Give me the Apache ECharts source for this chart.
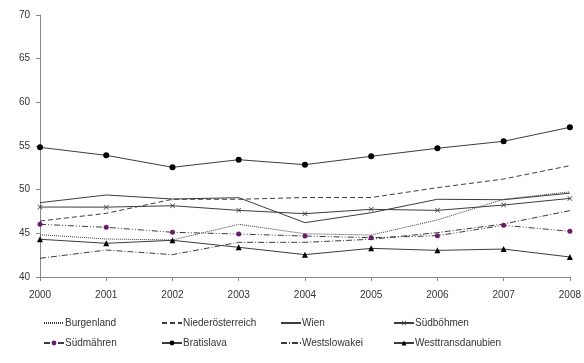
<!DOCTYPE html>
<html>
<head>
<meta charset="utf-8">
<script src="https://cdn.jsdelivr.net/npm/echarts@6/dist/echarts.min.js"></script>
<style>
  html, body { margin: 0; padding: 0; background: #fff; }
  #chart { width: 584px; height: 363px; }
</style>
</head>
<body>
<div id="chart"></div>
<script>
// Years on the category axis
const years = ['2000', '2001', '2002', '2003', '2004', '2005', '2006', '2007', '2008'];

// Values per region
const burgenland        = [44.85, 44.35, 44.24, 46.03, 44.95, 44.8, 46.53, 48.9, 49.75];
const niederoesterreich = [46.41, 47.29, 48.9, 48.9, 49.1, 49.1, 50.23, 51.22, 52.75];
const wien              = [48.51, 49.39, 48.93, 49.08, 46.22, 47.36, 48.9, 48.85, 49.6];
const suedboehmen       = [48.01, 48.0, 48.16, 47.63, 47.25, 47.75, 47.63, 48.24, 49.0];
const suedmaehren       = [46.03, 45.69, 45.12, 44.92, 44.69, 44.5, 44.73, 45.92, 45.23];
const bratislava        = [54.85, 53.93, 52.56, 53.43, 52.86, 53.82, 54.74, 55.54, 57.14];
const westslowakei      = [42.14, 43.09, 42.56, 43.97, 43.97, 44.32, 45.08, 46.07, 47.6];
const westtransdanubien = [44.32, 43.86, 44.2, 43.4, 42.56, 43.28, 43.05, 43.2, 42.29];

// Y axis range and step
const yMin = 40, yMax = 70, yStep = 5;

const ink = '#333';
const lineInk = '#3c3c3c';
const font = 'Liberation Sans';
const crossPath = 'path://M0,1L1,0L5,4L9,0L10,1L6,5L10,9L9,10L5,6L1,10L0,9L4,5Z';

function line(name, data, dash, symbol, symbolSize, color) {
  return {
    name: name,
    type: 'line',
    data: data,
    symbol: symbol || 'circle',
    symbolSize: symbolSize || 0,
    showSymbol: !!symbol,
    animation: false,
    silent: true,
    lineStyle: { color: lineInk, width: 1, type: dash },
    itemStyle: { color: color || lineInk, borderWidth: 0 },
    z: 2
  };
}

const series = [
  line('Burgenland', burgenland, [1, 1]),
  line('Niederösterreich', niederoesterreich, [5, 3]),
  line('Wien', wien, 'solid'),
  line('Südböhmen', suedboehmen, 'solid', crossPath, 5),
  line('Südmähren', suedmaehren, [6, 2, 1, 2, 1, 2], 'circle', 5, '#6b1a6b'),
  line('Bratislava', bratislava, 'solid', 'circle', 6, '#000'),
  line('Westslowakei', westslowakei, [6, 2, 1, 2]),
  line('Westtransdanubien', westtransdanubien, 'solid', 'triangle', 6, '#000')
];

// Series drawn without markers get a plain line in the legend
const plainLines = ['Burgenland', 'Niederösterreich', 'Wien', 'Westslowakei'];

function legendColumn(left, names) {
  return {
    orient: 'vertical',
    left: left,
    top: 318,
    itemWidth: 20,
    itemHeight: 6,
    itemGap: 10,
    padding: 0,
    selectedMode: false,
    data: names.map(function (n) {
      return plainLines.indexOf(n) >= 0
        ? { name: n, itemStyle: { color: 'rgba(0,0,0,0)', borderColor: 'rgba(0,0,0,0)', borderWidth: 0 } }
        : { name: n };
    }),
    textStyle: { fontFamily: font, fontSize: 10, color: ink, padding: [0, 0, 0, -4] }
  };
}

const chart = echarts.init(document.getElementById('chart'), null, { renderer: 'canvas' });
chart.setOption({
  backgroundColor: '#fff',
  animation: false,
  grid: { left: 40, top: 15, right: 12, bottom: 86, containLabel: false },
  xAxis: {
    type: 'category',
    data: years,
    boundaryGap: false,
    axisLine: { lineStyle: { color: '#888', width: 1 } },
    axisTick: { show: true, length: 4, inside: false, lineStyle: { color: '#888' } },
    axisLabel: { fontFamily: font, fontSize: 10, color: ink, margin: 13 },
    splitLine: { show: false }
  },
  yAxis: {
    type: 'value',
    min: yMin,
    max: yMax,
    interval: yStep,
    axisLine: { show: true, lineStyle: { color: '#888', width: 1 } },
    axisTick: { show: true, length: 4, lineStyle: { color: '#888' } },
    axisLabel: { fontFamily: font, fontSize: 10, color: ink, margin: 10 },
    splitLine: { show: false }
  },
  legend: [
    legendColumn(43, ['Burgenland', 'Südmähren']),
    legendColumn(161, ['Niederösterreich', 'Bratislava']),
    legendColumn(280, ['Wien', 'Westslowakei']),
    legendColumn(393, ['Südböhmen', 'Westtransdanubien'])
  ],
  series: series
});
</script>
</body>
</html>
